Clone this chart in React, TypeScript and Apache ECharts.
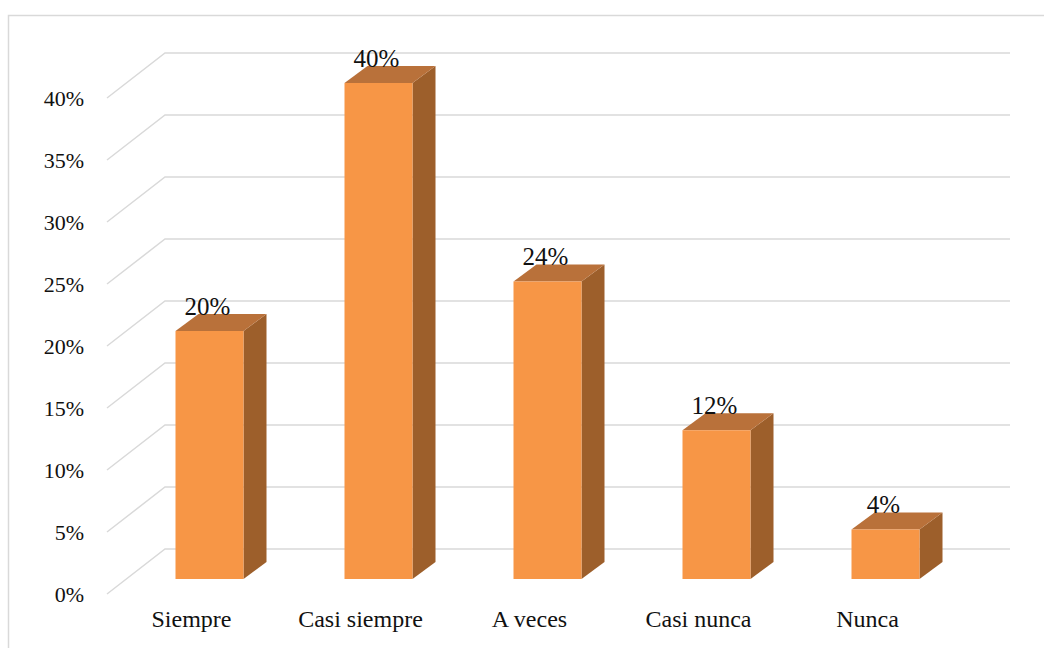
import React, { useEffect, useRef } from "react";
import * as echarts from "echarts";

// Survey answer categories and their share (%)
const categories = ["Siempre", "Casi siempre", "A veces", "Casi nunca", "Nunca"];
const values = [20, 40, 24, 12, 4];
// Percent ticks on the value axis
const yTicks = [0, 5, 10, 15, 20, 25, 30, 35, 40];

// Pseudo-3D geometry (pixels)
const WALL_DX = 58; // floor depth, horizontal
const WALL_DY = 45; // floor depth, vertical
const BAR_OFF_X = 18; // bar front plane offset from the axis plane
const BAR_OFF_Y = 15;
const BAR_HALF = 34; // half width of the bar front face
const BAR_SX = 23; // bar depth
const BAR_SY = 17;

const FONT = "Liberation Serif";
const GRID_COLOR = "#d9d9d9";

export default function App() {
  const ref = useRef<HTMLDivElement>(null);

  useEffect(() => {
    if (!ref.current) return;
    const chart = echarts.init(ref.current, undefined, { renderer: "svg" });

    const option: any = {
      animation: false,
      backgroundColor: "#ffffff",
      textStyle: { fontFamily: FONT },
      graphic: [
        {
          type: "rect",
          shape: { x: 8.5, y: 15.5, width: 1100, height: 700 },
          style: { fill: "none", stroke: GRID_COLOR, lineWidth: 1.5 },
          silent: true,
          z: -10,
        },
      ],
      grid: { left: 107, top: 98, width: 845, height: 496, containLabel: false },
      xAxis: {
        type: "category",
        data: categories,
        axisLine: { show: false },
        axisTick: { show: false },
        splitLine: { show: false },
        axisLabel: {
          color: "#111",
          fontSize: 24,
          fontFamily: FONT,
          margin: 13,
          interval: 0,
        },
      },
      yAxis: {
        type: "value",
        min: 0,
        max: 40,
        interval: 5,
        axisLine: { show: false },
        axisTick: { show: false },
        splitLine: { show: false },
        axisLabel: {
          formatter: "{value}%",
          color: "#111",
          fontSize: 22,
          fontFamily: FONT,
          margin: 23,
        },
      },
      series: [
        {
          // floor edge + back wall gridlines
          type: "custom",
          silent: true,
          z: 1,
          data: yTicks.map((v) => [0, v]),
          encode: { x: 0, y: 1 },
          renderItem: (params: any, api: any) => {
            const cs = params.coordSys;
            const y = api.coord([0, api.value(1)])[1];
            return {
              type: "polyline",
              shape: {
                points: [
                  [cs.x, y],
                  [cs.x + WALL_DX, y - WALL_DY],
                  [cs.x + cs.width + WALL_DX, y - WALL_DY],
                ],
              },
              style: { stroke: GRID_COLOR, lineWidth: 1.5, fill: "none" },
            };
          },
        },
        {
          // 3D-looking bars with value labels
          type: "custom",
          z: 2,
          data: values.map((v, i) => [i, v]),
          encode: { x: 0, y: 1 },
          renderItem: (params: any, api: any) => {
            const i = api.value(0);
            const v = api.value(1);
            const [cx, y0] = api.coord([i, 0]);
            const yv = api.coord([i, v])[1];
            const fx = cx + BAR_OFF_X;
            const bottom = y0 - BAR_OFF_Y;
            const top = yv - BAR_OFF_Y;
            const left = fx - BAR_HALF;
            const right = fx + BAR_HALF;
            return {
              type: "group",
              children: [
                {
                  type: "polygon",
                  shape: {
                    points: [
                      [right, top],
                      [right + BAR_SX, top - BAR_SY],
                      [right + BAR_SX, bottom - BAR_SY],
                      [right, bottom],
                    ],
                  },
                  style: { fill: "#9d5f2b" },
                },
                {
                  type: "polygon",
                  shape: {
                    points: [
                      [left, top],
                      [left + BAR_SX, top - BAR_SY],
                      [right + BAR_SX, top - BAR_SY],
                      [right, top],
                    ],
                  },
                  style: { fill: "#b9713a" },
                },
                {
                  type: "polygon",
                  shape: {
                    points: [
                      [left, top],
                      [right, top],
                      [right, bottom],
                      [left, bottom],
                    ],
                  },
                  style: { fill: "#f79646" },
                },
                {
                  type: "text",
                  x: fx - 2,
                  y: top - BAR_SY - 8,
                  style: {
                    text: `${v}%`,
                    fill: "#111",
                    fontFamily: FONT,
                    fontSize: 25,
                    align: "center",
                    verticalAlign: "middle",
                  },
                  z2: 10,
                },
              ],
            };
          },
        },
      ],
    };

    chart.setOption(option);
    return () => chart.dispose();
  }, []);

  return (
    <div
      ref={ref}
      style={{ position: "fixed", left: 0, top: 0, width: 1044, height: 648 }}
    />
  );
}
